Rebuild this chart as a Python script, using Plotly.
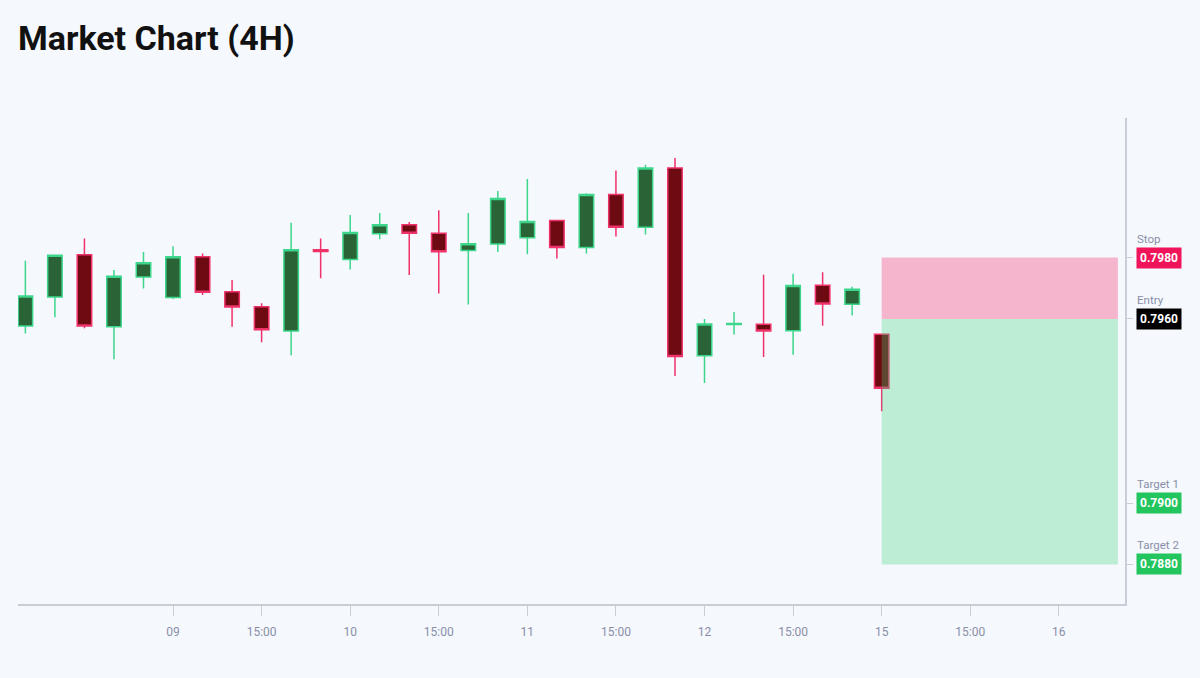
import plotly.graph_objects as go

# ---- data ----
slot = list(range(30))  # 4H candle slots
open_ = [0.79577, 0.79672, 0.79809, 0.79575, 0.79737, 0.79670, 0.79803, 0.79689, 0.79640, 0.79561,
         0.79826, 0.79794, 0.79878, 0.79907, 0.79879, 0.79823, 0.79844, 0.79865, 0.79921, 0.79833,
         0.80006, 0.79899, 0.80092, 0.79480, 0.79582, 0.79583, 0.79562, 0.79710, 0.79648, 0.79550]
high = [0.79790, 0.79810, 0.79862, 0.79760, 0.79818, 0.79837, 0.79813, 0.79727, 0.79651, 0.79914,
        0.79862, 0.79939, 0.79945, 0.79916, 0.79954, 0.79945, 0.80017, 0.80056, 0.79923, 0.80010,
        0.80084, 0.80103, 0.80125, 0.79600, 0.79623, 0.79744, 0.79747, 0.79752, 0.79705, 0.79552]
low = [0.79553, 0.79606, 0.79570, 0.79469, 0.79699, 0.79665, 0.79678, 0.79575, 0.79524, 0.79482,
       0.79733, 0.79761, 0.79860, 0.79743, 0.79683, 0.79647, 0.79818, 0.79811, 0.79797, 0.79813,
       0.79869, 0.79875, 0.79414, 0.79391, 0.79549, 0.79476, 0.79483, 0.79578, 0.79611, 0.79299]
close = [0.79675, 0.79808, 0.79577, 0.79739, 0.79783, 0.79803, 0.79687, 0.79639, 0.79565, 0.79826,
         0.79820, 0.79882, 0.79907, 0.79879, 0.79819, 0.79845, 0.79993, 0.79918, 0.79833, 0.80006,
         0.79899, 0.80092, 0.79478, 0.79584, 0.79585, 0.79561, 0.79709, 0.79649, 0.79697, 0.79374]

tick_slots = [5, 8, 11, 14, 17, 20, 23, 26, 29, 32, 35]
tick_labels = ["09", "15:00", "10", "15:00", "11", "15:00", "12", "15:00", "15", "15:00", "16"]

level_names = ["Stop", "Entry", "Target 1", "Target 2"]
level_prices = [0.7980, 0.7960, 0.7900, 0.7880]
level_colors = ["#F0145A", "#000000", "#22C55E", "#22C55E"]

position_start = 29
position_end = 37

BG = "#F5F8FD"
GRAY = "#8A8FA8"
AXIS = "#C9CDD8"

fig = go.Figure()
fig.add_trace(go.Candlestick(
    x=slot, open=open_, high=high, low=low, close=close,
    increasing=dict(line=dict(color="#3DD68C", width=1.5), fillcolor="#2A6335"),
    decreasing=dict(line=dict(color="#F0326A", width=1.5), fillcolor="#6E0A12"),
    whiskerwidth=0, showlegend=False, hoverinfo="skip",
))

stop, entry, t1, t2 = level_prices
fig.add_shape(type="rect", xref="x", yref="y", x0=position_start, x1=position_end,
              y0=entry, y1=stop, fillcolor="rgba(245,25,96,0.3)", line_width=0, layer="above")
fig.add_shape(type="rect", xref="x", yref="y", x0=position_start, x1=position_end,
              y0=t2, y1=entry, fillcolor="rgba(58,211,123,0.3)", line_width=0, layer="above")

for name, price, col in zip(level_names, level_prices, level_colors):
    fig.add_annotation(xref="paper", yref="y", x=1, xshift=11, y=price, xanchor="left",
                       yanchor="middle", showarrow=False,
                       text="<b>%.4f</b>" % price, font=dict(family="Roboto", size=12, color="white"),
                       bgcolor=col, borderpad=3)
    fig.add_annotation(xref="paper", yref="y", x=1, xshift=10, y=price, yshift=19, xanchor="left",
                       yanchor="middle", showarrow=False, text=name,
                       font=dict(family="Roboto", size=11.5, color=GRAY))

fig.update_layout(
    width=1200, height=678,
    paper_bgcolor=BG, plot_bgcolor=BG,
    margin=dict(l=18, r=75, t=118, b=74),
    font=dict(family="Roboto", color=GRAY, size=11),
    title=dict(text="<b>Market Chart (4H)</b>", x=0.015, xanchor="left", xref="container",
               y=0.944, yanchor="middle", font=dict(family="Roboto", size=34, color="#111111")),
    xaxis=dict(range=[-0.25, 37.24], tickvals=tick_slots, ticktext=tick_labels,
               showgrid=False, zeroline=False, showline=True, linecolor=AXIS, linewidth=1.5,
               ticks="outside", ticklen=10, tickcolor=AXIS, ticklabelstandoff=6,
               tickfont=dict(size=12, color=GRAY),
               rangeslider=dict(visible=False), fixedrange=True),
    yaxis=dict(side="right", range=[0.78671, 0.80255], tickvals=level_prices,
               ticktext=["" for _ in level_prices], showgrid=False, zeroline=False,
               showline=True, linecolor=AXIS, linewidth=1.5, ticks="outside", ticklen=6,
               tickcolor=AXIS, fixedrange=True),
)

fig.write_html("out.html", config={"displayModeBar": False},
               post_script="document.body.style.margin='0';document.body.style.background='%s';" % BG)
